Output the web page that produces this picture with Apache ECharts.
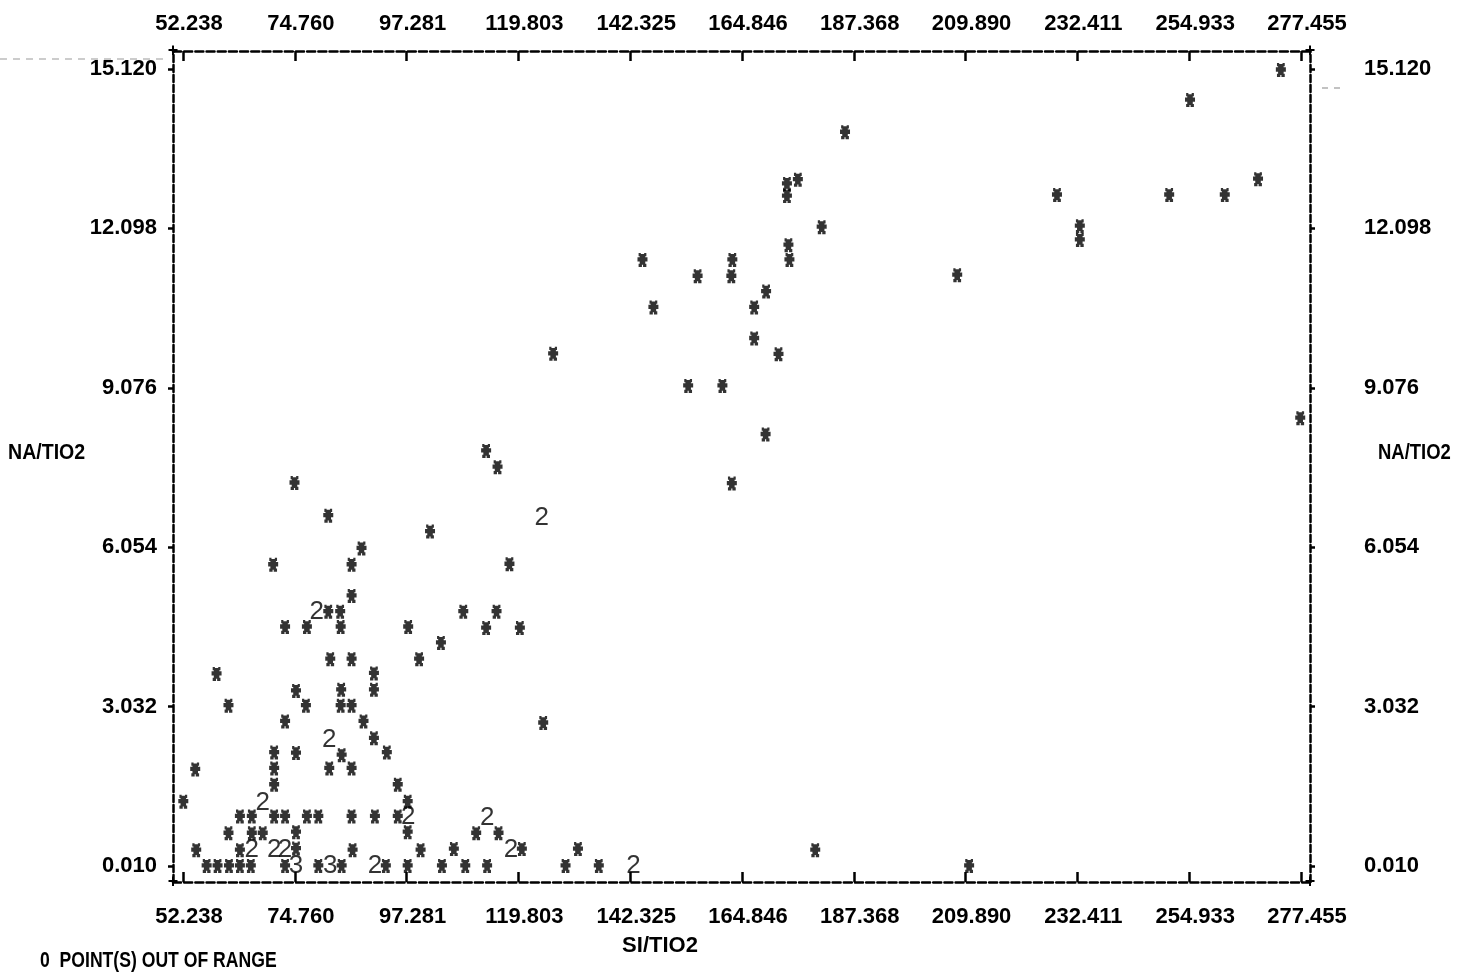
<!DOCTYPE html>
<html>
<head>
<meta charset="utf-8">
<script src="https://cdn.jsdelivr.net/npm/echarts@6/dist/echarts.min.js"></script>
<style>
  html, body { margin: 0; padding: 0; background: #fff; }
  #chart { width: 1462px; height: 972px; }
</style>
</head>
<body>
<div id="chart"></div>
<script>
// Tick values printed along the frame
const xTicks = [52.238, 74.760, 97.281, 119.803, 142.325, 164.846, 187.368, 209.890, 232.411, 254.933, 277.455];
const yTicks = [0.010, 3.032, 6.054, 9.076, 12.098, 15.120];

// Single samples [SI/TIO2, NA/TIO2], printed as '*'
const highPoints = [
  [273.4, 15.10], [255.1, 14.53], [185.6, 13.92], [176.1, 13.02], [173.9, 12.94],
  [173.9, 12.71], [180.9, 12.12], [174.2, 11.78], [174.4, 11.50], [228.3, 12.73],
  [232.9, 12.14], [232.9, 11.88], [250.9, 12.73], [262.1, 12.73], [268.8, 13.03],
  [208.2, 11.21], [277.3, 8.50]
];
const midPoints = [
  [144.8, 11.50], [162.9, 11.50], [155.9, 11.19], [162.7, 11.19], [169.7, 10.90],
  [147.0, 10.60], [167.3, 10.60], [167.3, 10.01], [172.2, 9.71], [154.0, 9.11],
  [160.9, 9.11], [169.6, 8.19], [162.8, 7.26], [126.8, 9.72], [113.3, 7.88],
  [115.6, 7.57], [102.0, 6.35], [118.0, 5.73], [108.7, 4.83], [115.4, 4.83],
  [113.3, 4.52], [120.1, 4.52], [104.2, 4.24], [124.8, 2.72], [179.6, 0.31],
  [210.6, 0.01]
];
const lowPoints = [
  [74.7, 7.27], [81.5, 6.65], [88.2, 6.03], [70.4, 5.72], [86.2, 5.72],
  [86.2, 5.13], [81.5, 4.83], [83.9, 4.83], [72.8, 4.54], [77.2, 4.54],
  [84.0, 4.54], [97.6, 4.54], [81.9, 3.93], [86.2, 3.93], [99.8, 3.93],
  [59.0, 3.65], [90.7, 3.66], [90.7, 3.35], [75.0, 3.33], [84.1, 3.35],
  [61.4, 3.05], [77.0, 3.05], [84.0, 3.05], [86.2, 3.05], [72.8, 2.75],
  [88.6, 2.75], [90.7, 2.43], [93.3, 2.16], [70.6, 2.16], [75.0, 2.15],
  [84.2, 2.11], [54.7, 1.84], [70.6, 1.86], [81.7, 1.86], [86.2, 1.86],
  [70.6, 1.55], [95.5, 1.55], [52.3, 1.23], [97.5, 1.23],
  [63.7, 0.95], [66.1, 0.95], [70.6, 0.95], [72.8, 0.95], [77.2, 0.95],
  [79.5, 0.95], [86.2, 0.95], [90.9, 0.95], [95.5, 0.95],
  [61.4, 0.63], [66.1, 0.63], [68.3, 0.63], [75.0, 0.65], [97.5, 0.65],
  [54.9, 0.31], [63.7, 0.31], [75.0, 0.34], [86.4, 0.31], [100.1, 0.31],
  [57.0, 0.01], [59.2, 0.01], [61.5, 0.01], [63.7, 0.01], [65.9, 0.01],
  [72.8, 0.01], [79.5, 0.01], [84.2, 0.01], [93.1, 0.01], [97.5, 0.01],
  [104.4, 0.01], [106.8, 0.33], [109.1, 0.01], [111.3, 0.63], [115.8, 0.63],
  [113.5, 0.01], [120.5, 0.33], [129.3, 0.01], [131.8, 0.33], [136.0, 0.01]
];
// Cells holding several samples [SI/TIO2, NA/TIO2, count], printed as the count
const overlapPoints = [
  [124.5, 6.62, 2], [79.2, 4.83, 2], [81.7, 2.40, 2], [68.3, 1.21, 2],
  [97.6, 0.95, 2], [66.1, 0.31, 2], [70.6, 0.31, 2], [72.8, 0.31, 2],
  [75.0, 0.01, 3], [81.9, 0.01, 3], [90.9, 0.01, 2], [113.5, 0.93, 2],
  [118.3, 0.31, 2], [143.0, 0.01, 2]
];

// Plot frame (pixels) and the value range it spans
const FRAME = { left: 173, right: 1310, top: 51, bottom: 882 };
const X_MIN = 50.2235, X_MAX = 279.27;
const Y_MIN = -0.2933, Y_MAX = 15.461;

const FONT = '"Liberation Sans", Arial, sans-serif';
const INK = '#000';

// Dot-matrix style asterisk
const ASTERISK = 'path://M1 0L3 0L3 1L6 1L6 0L8 0L8 3L7 3L7 4L9 4L9 8L7 8L7 10L8 10L8 13L5 13L5 11L4 11L4 13L1 13L1 10L2 10L2 8L0 8L0 4L2 4L2 3L1 3Z';

const tickLabel = {
  customValues: xTicks,
  formatter: v => v.toFixed(3),
  fontFamily: FONT, fontWeight: 'bold', fontSize: 22, color: INK
};

function xAxisDef(position, margin) {
  return {
    type: 'value', position, min: X_MIN, max: X_MAX,
    axisLine: { show: true, onZero: false, lineStyle: { color: INK, width: 2.5, type: [8, 3.18] } },
    axisTick: { show: true, inside: true, length: 10, customValues: xTicks, lineStyle: { color: INK, width: 2.5 } },
    axisLabel: Object.assign({}, tickLabel, { margin, padding: [0, 0, 0, 12] }),
    splitLine: { show: false }
  };
}
function yAxisDef(position, margin) {
  return {
    type: 'value', position, min: Y_MIN, max: Y_MAX,
    axisLine: { show: true, onZero: false, lineStyle: { color: INK, width: 2.5, type: [7, 3] } },
    axisTick: { show: true, inside: false, length: 5, customValues: yTicks, lineStyle: { color: INK, width: 2.5 } },
    axisLabel: Object.assign({}, tickLabel, { customValues: yTicks, margin }),
    splitLine: { show: false }
  };
}

const textStyle = (extra) => Object.assign({ fill: INK, fontFamily: FONT, fontWeight: 'bold', fontSize: 22 }, extra);
const corners = [
  [FRAME.left, FRAME.top], [FRAME.right, FRAME.top],
  [FRAME.left, FRAME.bottom], [FRAME.right, FRAME.bottom]
].map(([x, y]) => ({
  type: 'text', x, y, silent: true,
  style: textStyle({ text: '+', fontSize: 18, align: 'center', verticalAlign: 'middle' })
}));

const chart = echarts.init(document.getElementById('chart'), null, { renderer: 'canvas' });
chart.setOption({
  animation: false,
  backgroundColor: '#fff',
  grid: {
    left: FRAME.left, right: 1462 - FRAME.right, top: FRAME.top, bottom: 972 - FRAME.bottom,
    containLabel: false, outerBoundsMode: 'none'
  },
  xAxis: [xAxisDef('bottom', 24), xAxisDef('top', 16)],
  yAxis: [yAxisDef('left', 16), yAxisDef('right', 54)],
  series: [
    {
      type: 'scatter', name: 'samples', silent: true,
      data: highPoints.concat(midPoints, lowPoints),
      symbol: ASTERISK, symbolSize: [10, 14],
      itemStyle: { color: INK }
    },
    {
      type: 'scatter', name: 'overlaps', silent: true,
      data: overlapPoints,
      symbol: 'circle', symbolSize: 1,
      itemStyle: { color: 'rgba(0,0,0,0)' },
      label: {
        show: true, position: 'inside',
        formatter: p => String(p.value[2]),
        fontFamily: FONT, fontSize: 26, color: INK
      }
    }
  ],
  graphic: corners.concat([
    { type: 'text', x: 660, y: 946, silent: true,
      style: textStyle({ text: 'SI/TIO2', align: 'center', verticalAlign: 'middle' }) },
    { type: 'text', x: 8, y: 453, scaleX: 0.89, silent: true,
      style: textStyle({ text: 'NA/TIO2', align: 'left', verticalAlign: 'middle' }) },
    { type: 'text', x: 1378, y: 453, scaleX: 0.84, silent: true,
      style: textStyle({ text: 'NA/TIO2', align: 'left', verticalAlign: 'middle' }) },
    { type: 'text', x: 40, y: 961, scaleX: 0.8, silent: true,
      style: textStyle({ text: '0  POINT(S) OUT OF RANGE', align: 'left', verticalAlign: 'middle' }) },
    // faint carriage streaks beside the frame
    { type: 'line', silent: true, shape: { x1: 0, y1: 59, x2: 166, y2: 59 },
      style: { stroke: '#9a9a9a', lineWidth: 1.2, lineDash: [7, 6] } },
    { type: 'line', silent: true, shape: { x1: 1322, y1: 88, x2: 1346, y2: 88 },
      style: { stroke: '#9a9a9a', lineWidth: 1.2, lineDash: [6, 6] } }
  ])
});
</script>
</body>
</html>
